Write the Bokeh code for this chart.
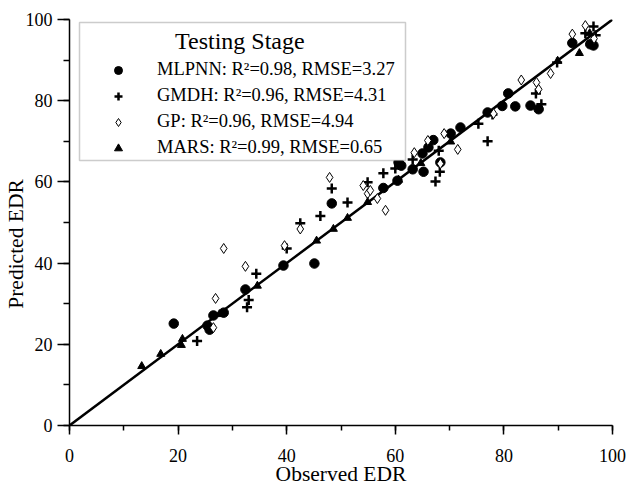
import numpy as np
from bokeh.plotting import figure
from bokeh.models import Range1d, SingleIntervalTicker, Legend, LegendItem, BoxAnnotation
from bokeh.embed import file_html
from bokeh.resources import INLINE

# ---- data ----
mlp_obs = [19.2, 25.8, 25.4, 26.5, 28.4, 32.4, 39.4, 45.1, 48.3, 57.8, 60.4, 60.6, 61.1, 63.2,
           65.0, 65.2, 66.1, 67.0, 68.3, 70.2, 72.0, 77.0, 79.7, 80.8, 82.1, 84.9, 86.4, 92.6,
           95.9, 96.5]
mlp_pred = [25.1, 23.6, 24.6, 27.1, 27.8, 33.5, 39.4, 39.9, 54.7, 58.5, 60.3, 64.8, 64.0, 63.1,
            67.0, 62.5, 68.5, 70.3, 64.8, 71.9, 73.4, 77.1, 78.7, 81.8, 78.6, 78.8, 77.9, 94.2,
            93.9, 93.6]

gmdh_obs = [23.5, 32.7, 33.0, 34.4, 40.0, 42.5, 46.2, 48.3, 51.2, 54.9, 57.8, 60.0, 63.2, 67.4,
            68.2, 68.0, 75.3, 77.0, 77.9, 85.9, 86.9, 89.8, 95.0, 96.9, 96.5]
gmdh_pred = [20.8, 29.1, 30.9, 37.4, 43.6, 49.8, 51.6, 58.4, 54.9, 59.9, 62.1, 63.3, 65.5, 60.1,
             62.5, 67.7, 74.3, 70.0, 76.6, 81.8, 79.1, 89.4, 96.6, 96.1, 98.3]

gp_obs = [26.5, 26.9, 28.4, 32.4, 39.6, 42.5, 47.9, 54.1, 54.9, 55.4, 56.7, 58.2, 60.6, 63.5,
          66.0, 68.3, 69.0, 71.5, 78.1, 83.2, 86.0, 86.4, 88.6, 92.6, 95.0, 96.6]
gp_pred = [24.1, 31.3, 43.6, 39.2, 44.3, 48.4, 61.1, 59.1, 57.1, 57.9, 55.9, 53.0, 66.6, 67.2,
           70.2, 64.5, 71.9, 68.0, 76.8, 85.1, 84.5, 82.8, 86.7, 96.4, 98.5, 95.3]

mars_obs = [13.3, 16.8, 20.6, 20.8, 27.6, 34.6, 45.5, 48.6, 51.2, 54.9, 60.6, 64.7, 70.2,
            89.9, 93.9, 95.8]
mars_pred = [14.6, 17.6, 19.8, 21.3, 27.4, 34.4, 45.5, 48.4, 51.1, 55.0, 60.5, 64.6, 69.9,
             89.8, 91.7, 96.6]

line_x = [0, 100]
line_y = [0, 100]

legend_title = "Testing Stage"
labels = ["MLPNN: R\u00b2=0.98, RMSE=3.27",
          "GMDH: R\u00b2=0.96, RMSE=4.31",
          "GP: R\u00b2=0.96, RMSE=4.94",
          "MARS: R\u00b2=0.99, RMSE=0.65"]
x_title = "Observed EDR"
y_title = "Predicted EDR"

FONT = "Liberation Serif"
NBSP = "\u00a0"

p = figure(width=627, height=488, output_backend="svg", toolbar_location=None,
           x_range=Range1d(0, 100), y_range=Range1d(0, 100),
           min_border_left=69, min_border_right=15, min_border_top=19, min_border_bottom=63)
p.outline_line_color = None
p.grid.visible = False
p.background_fill_color = "white"

for ax in (p.xaxis[0], p.yaxis[0]):
    ax.ticker = SingleIntervalTicker(interval=20, num_minor_ticks=2)
    ax.axis_line_color = "black"
    ax.axis_line_width = 1.5
    ax.major_tick_line_color = "black"
    ax.major_tick_line_width = 1.5
    ax.minor_tick_line_color = "black"
    ax.minor_tick_line_width = 1.5
    ax.major_tick_in = 0
    ax.minor_tick_in = 0
    ax.major_label_text_font = FONT
    ax.major_label_text_font_size = "18px"
    ax.major_label_text_color = "black"
    ax.axis_label_text_font = FONT
    ax.axis_label_text_font_size = "21.5px"
    ax.axis_label_text_font_style = "normal"
    ax.axis_label_text_color = "black"

p.xaxis[0].major_tick_out = 9
p.xaxis[0].minor_tick_out = 5
p.xaxis[0].major_label_standoff = 14
p.xaxis[0].axis_label_standoff = -3
p.yaxis[0].major_tick_out = 12
p.yaxis[0].minor_tick_out = 6
p.yaxis[0].major_label_standoff = 5
p.yaxis[0].axis_label_standoff = -5

p.xaxis[0].axis_label = x_title
p.yaxis[0].axis_label = y_title + NBSP * 8

p.line(line_x, line_y, line_color="black", line_width=2.5)

r1 = p.scatter(mlp_obs, mlp_pred, marker="circle", size=9.5, fill_color="black", line_color="black")
r2 = p.scatter(gmdh_obs, gmdh_pred, marker="cross", size=10, line_color="black", line_width=2.5)
r3 = p.scatter(gp_obs, gp_pred, marker="diamond", size=10,
               fill_color="white", line_color="black", line_width=1)
r4 = p.scatter(mars_obs, mars_pred, marker="triangle", size=8, fill_color="black", line_color="black")

# legend frame (screen units, relative to the plot frame)
legend_box = BoxAnnotation(left=10, right=336, bottom=265, top=403,
                           left_units="screen", right_units="screen",
                           bottom_units="screen", top_units="screen",
                           fill_color="white", fill_alpha=1.0,
                           line_color="#555555", line_width=1.5)
p.add_layout(legend_box)

legend = Legend(items=[LegendItem(label=labels[0], renderers=[r1]),
                       LegendItem(label=labels[1], renderers=[r2]),
                       LegendItem(label=labels[2], renderers=[r3]),
                       LegendItem(label=labels[3], renderers=[r4])],
                location=(10, 267), title=NBSP * 16 + legend_title)
legend.title_text_font = FONT
legend.title_text_font_size = "24px"
legend.title_text_font_style = "normal"
legend.title_text_color = "black"
legend.title_standoff = 4
legend.label_text_font = FONT
legend.label_text_font_size = "18.5px"
legend.label_text_color = "black"
legend.label_standoff = 0
legend.glyph_width = 78
legend.glyph_height = 20
legend.label_height = 20
legend.spacing = 5
legend.padding = 0
legend.margin = 0
legend.border_line_color = None
legend.background_fill_alpha = 0.0
p.add_layout(legend, "center")

open("out.html", "w").write(file_html(p, INLINE))
